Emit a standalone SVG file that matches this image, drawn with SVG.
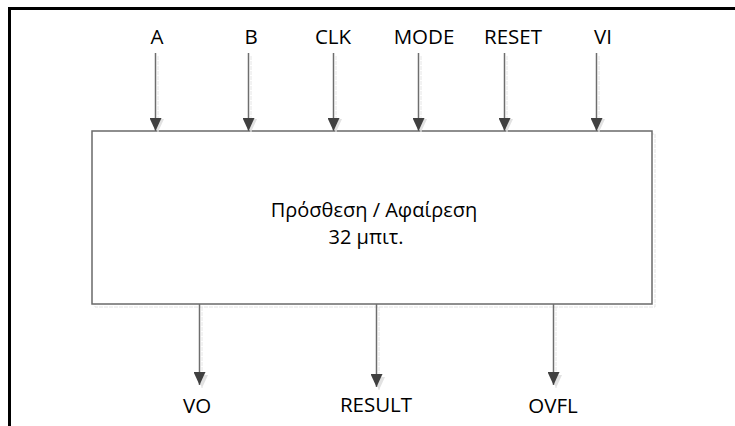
<svg xmlns="http://www.w3.org/2000/svg" width="735" height="426" viewBox="0 0 735 426">
  <defs>
    <marker id="head" markerWidth="14" markerHeight="12" refX="13" refY="6" orient="auto" markerUnits="userSpaceOnUse" viewBox="0 0 14 12">
      <path d="M0,0 L13,6 L0,12 Z" fill="#404040"/>
    </marker>
    <marker id="headShadow" markerWidth="14" markerHeight="12" refX="13" refY="6" orient="auto" markerUnits="userSpaceOnUse" viewBox="0 0 14 12">
      <path d="M0,0 L13,6 L0,12 Z" fill="#e2e2e2"/>
    </marker>
  </defs>
  <style>
    .frame { stroke: #000; stroke-width: 3; fill: none; }
    .box { fill: #fff; stroke: #6a6a6a; stroke-width: 1.5; }
    .shadow { fill: none; stroke: #e4e4e4; stroke-width: 1; stroke-dasharray: 4 1; }
    .wire { stroke: #6e6e6e; stroke-width: 1.5; fill: none; marker-end: url(#head); }
    .wireShadow { stroke: #e6e6e6; stroke-width: 1; fill: none; stroke-dasharray: 4 1; marker-end: url(#headShadow); }
    .label { font-family: "Open Sans", "Noto Sans", sans-serif; font-size: 20.5px; fill: #000; text-anchor: middle; }
    .title { font-family: "Open Sans", "Noto Sans", sans-serif; font-size: 20px; fill: #000; text-anchor: middle; }
  </style>

  <rect width="735" height="426" fill="#fff"/>

  <!-- outer frame: top and left edges -->
  <path class="frame" d="M9.5,426 L9.5,8.5 L735,8.5"/>

  <!-- adder / subtractor block -->
  <g id="adder">
    <rect class="shadow" x="95" y="134" width="560" height="173"/>
    <rect class="box" x="92" y="131" width="560" height="173"/>
    <text class="title" x="374" y="217">Πρόσθεση / Αφαίρεση</text>
    <text class="title" x="366" y="244">32 μπιτ.</text>
  </g>

  <!-- port labels -->
  <g id="in-A"><text class="label" x="157" y="44">A</text></g>
  <g id="in-B"><text class="label" x="251" y="44">B</text></g>
  <g id="in-CLK"><text class="label" x="333" y="44">CLK</text></g>
  <g id="in-MODE"><text class="label" x="424" y="44">MODE</text></g>
  <g id="in-RESET"><text class="label" x="513" y="44">RESET</text></g>
  <g id="in-VI"><text class="label" x="603" y="44">VI</text></g>
  <g id="out-VO"><text class="label" x="197" y="413">VO</text></g>
  <g id="out-RESULT"><text class="label" x="376" y="412">RESULT</text></g>
  <g id="out-OVFL"><text class="label" x="553" y="413">OVFL</text></g>

  <!-- connectors -->
  <g id="connectors">
    <line class="wireShadow" x1="158" y1="56" x2="158" y2="132"/>
    <line class="wireShadow" x1="251" y1="56" x2="251" y2="132"/>
    <line class="wireShadow" x1="336" y1="56" x2="336" y2="132"/>
    <line class="wireShadow" x1="421" y1="56" x2="421" y2="132"/>
    <line class="wireShadow" x1="507" y1="56" x2="507" y2="132"/>
    <line class="wireShadow" x1="599" y1="56" x2="599" y2="132"/>
    <line class="wireShadow" x1="202" y1="307" x2="202" y2="388"/>
    <line class="wireShadow" x1="379" y1="307" x2="379" y2="390"/>
    <line class="wireShadow" x1="556" y1="307" x2="556" y2="388"/>

    <line class="wire" x1="155.5" y1="53" x2="155.5" y2="131"/>
    <line class="wire" x1="248.5" y1="53" x2="248.5" y2="131"/>
    <line class="wire" x1="333.5" y1="53" x2="333.5" y2="131"/>
    <line class="wire" x1="418.5" y1="53" x2="418.5" y2="131"/>
    <line class="wire" x1="504.5" y1="53" x2="504.5" y2="131"/>
    <line class="wire" x1="596.5" y1="53" x2="596.5" y2="131"/>
    <line class="wire" x1="199.5" y1="304" x2="199.5" y2="385"/>
    <line class="wire" x1="376.5" y1="304" x2="376.5" y2="387"/>
    <line class="wire" x1="553.5" y1="304" x2="553.5" y2="385"/>
  </g>
</svg>
